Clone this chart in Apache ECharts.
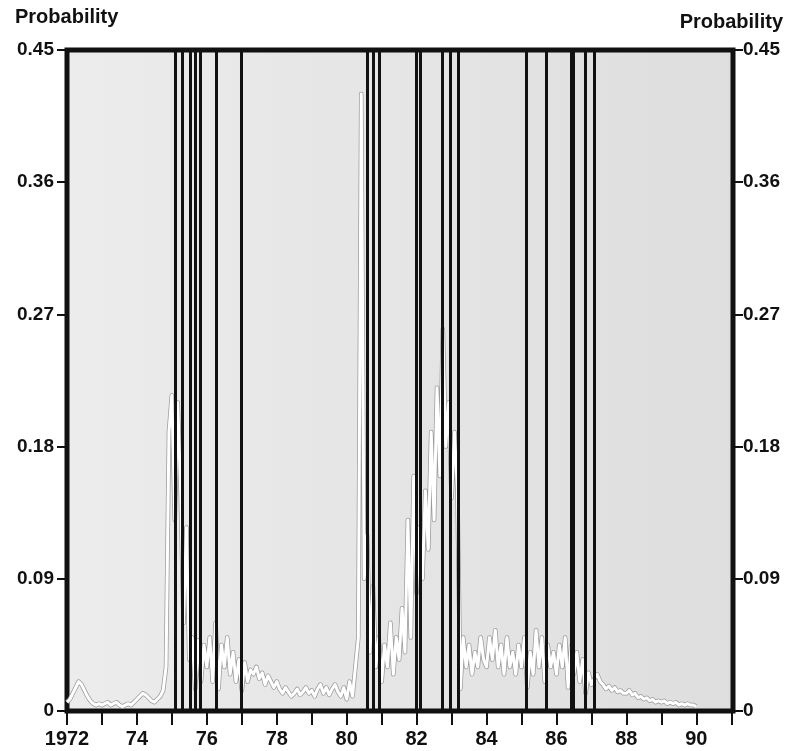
<!DOCTYPE html>
<html>
<head>
<meta charset="utf-8">
<script src="https://cdn.jsdelivr.net/npm/echarts@6/dist/echarts.min.js"></script>
<style>
html,body{margin:0;padding:0;background:#fff;}
#chart{width:788px;height:751px;}
</style>
</head>
<body>
<div id="chart"></div>
<script>
// ---- data ----
const startYear = 1972;            // first monthly observation (Jan 1972)
const yTicks = [0, 0.09, 0.18, 0.27, 0.36, 0.45];
const xLabelYears = [1972, 1974, 1976, 1978, 1980, 1982, 1984, 1986, 1988, 1990];
// monthly probability, Jan 1972 .. Jan 1990
const prob1972 = [0.006,0.008,0.012,0.016,0.020,0.018,0.014,0.010,0.007,0.005,0.004,0.005];
const prob1973 = [0.004,0.005,0.006,0.004,0.005,0.006,0.004,0.003,0.004,0.005,0.004,0.006];
const prob1974 = [0.008,0.010,0.012,0.011,0.009,0.007,0.006,0.008,0.010,0.014,0.030,0.190];
const prob1975 = [0.215,0.130,0.210,0.150,0.060,0.125,0.035,0.050,0.015,0.048,0.020,0.045];
const prob1976 = [0.030,0.050,0.020,0.060,0.015,0.045,0.030,0.050,0.025,0.040,0.020,0.035];
const prob1977 = [0.014,0.033,0.020,0.028,0.025,0.030,0.022,0.026,0.018,0.024,0.020,0.016];
const prob1978 = [0.020,0.015,0.012,0.016,0.013,0.010,0.012,0.015,0.011,0.013,0.016,0.012];
const prob1979 = [0.014,0.010,0.015,0.018,0.012,0.016,0.011,0.015,0.018,0.013,0.010,0.016];
const prob1980 = [0.008,0.020,0.010,0.030,0.050,0.420,0.090,0.120,0.040,0.085,0.030,0.050];
const prob1981 = [0.020,0.045,0.030,0.060,0.025,0.050,0.035,0.070,0.040,0.130,0.050,0.160];
const prob1982 = [0.080,0.125,0.090,0.150,0.110,0.190,0.130,0.220,0.160,0.260,0.180,0.210];
const prob1983 = [0.145,0.190,0.150,0.015,0.050,0.030,0.045,0.025,0.040,0.030,0.050,0.035];
const prob1984 = [0.030,0.050,0.035,0.055,0.030,0.045,0.025,0.050,0.030,0.040,0.025,0.045];
const prob1985 = [0.030,0.050,0.016,0.040,0.025,0.055,0.030,0.050,0.020,0.045,0.030,0.040];
const prob1986 = [0.025,0.045,0.030,0.050,0.016,0.044,0.025,0.040,0.020,0.035,0.012,0.026];
const prob1987 = [0.018,0.022,0.025,0.020,0.018,0.015,0.017,0.014,0.016,0.013,0.014,0.012];
const prob1988 = [0.012,0.014,0.011,0.012,0.009,0.010,0.008,0.009,0.007,0.008,0.006,0.007];
const prob1989 = [0.006,0.007,0.005,0.006,0.005,0.006,0.004,0.005,0.004,0.005,0.004,0.004];
const prob1990 = [0.003];
// dates of the vertical event lines (decimal years)
const eventDates = [1975.09,1975.31,1975.52,1975.68,1975.81,1976.26,1976.98,
                    1980.59,1980.76,1980.93,
                    1982.00,1982.09,1982.73,1982.95,1983.19,
                    1985.14,1985.70,1986.41,1986.48,1986.81,1987.08];

const probAll = [].concat(prob1972,prob1973,prob1974,prob1975,prob1976,prob1977,prob1978,
  prob1979,prob1980,prob1981,prob1982,prob1983,prob1984,prob1985,prob1986,prob1987,
  prob1988,prob1989,prob1990);
const probData = probAll.map((v, i) => [startYear + i / 12, v]);

const FONT = '"Liberation Sans", Arial, Helvetica, sans-serif';
const chart = echarts.init(document.getElementById('chart'), null, {renderer: 'canvas'});

const yAxisCommon = {
  type: 'value', min: 0, max: 0.45, interval: 0.09,
  axisLine: {show: false},
  axisTick: {show: true, inside: false, length: 10, lineStyle: {color: '#111', width: 2}},
  splitLine: {show: false},
  axisLabel: {
    color: '#111', fontFamily: FONT, fontWeight: 'bold', fontSize: 19,
    formatter: v => {
      const t = yTicks.find(k => Math.abs(k - v) < 1e-6);
      return t === 0 ? '0' : t.toFixed(2);
    }
  }
};

chart.setOption({
  animation: false,
  backgroundColor: '#ffffff',
  grid: {
    left: 67, right: 55, top: 50, bottom: 40,
    show: true,
    backgroundColor: new echarts.graphic.LinearGradient(0, 0, 1, 0, [
      {offset: 0, color: '#ececec'}, {offset: 1, color: '#dedede'}
    ]),
    borderColor: '#111', borderWidth: 5
  },
  xAxis: {
    type: 'value', min: 1972, max: 1991.05, interval: 1,
    axisLine: {show: false},
    axisTick: {show: true, inside: false, length: 14, lineStyle: {color: '#111', width: 2}},
    splitLine: {show: false},
    axisLabel: {
      margin: 18, color: '#111', fontFamily: FONT, fontWeight: 'bold', fontSize: 20,
      showMaxLabel: false,
      formatter: v => {
        const y = Math.round(v);
        if (!xLabelYears.includes(y)) return '';
        return y === 1972 ? '1972' : String(y % 100);
      }
    }
  },
  yAxis: [
    Object.assign({}, yAxisCommon, {position: 'left', axisLabel: Object.assign({}, yAxisCommon.axisLabel, {margin: 13})}),
    Object.assign({}, yAxisCommon, {position: 'right', axisLabel: Object.assign({}, yAxisCommon.axisLabel, {margin: 10})})
  ],
  graphic: [
    {type: 'text', left: 15, top: 7, style: {text: 'Probability', font: 'bold 20px ' + FONT, fill: '#111'}},
    {type: 'text', right: 5, top: 12, style: {text: 'Probability', font: 'bold 20px ' + FONT, fill: '#111'}}
  ],
  series: [
    {
      name: 'events', type: 'line', data: [], z: 2, silent: true,
      markLine: {
        silent: true, symbol: 'none', animation: false,
        label: {show: false},
        lineStyle: {color: '#111', width: 3, type: 'solid'},
        data: eventDates.map(d => ({xAxis: d}))
      }
    },
    {
      name: 'probEdge', type: 'line', data: probData, z: 3, silent: true,
      showSymbol: false, symbol: 'none',
      lineStyle: {color: '#9c9c9c', width: 4.5, join: 'round'}
    },
    {
      name: 'prob', type: 'line', data: probData, z: 4, silent: true,
      showSymbol: false, symbol: 'none',
      lineStyle: {color: '#ffffff', width: 3, join: 'round'}
    }
  ]
});
</script>
</body>
</html>
